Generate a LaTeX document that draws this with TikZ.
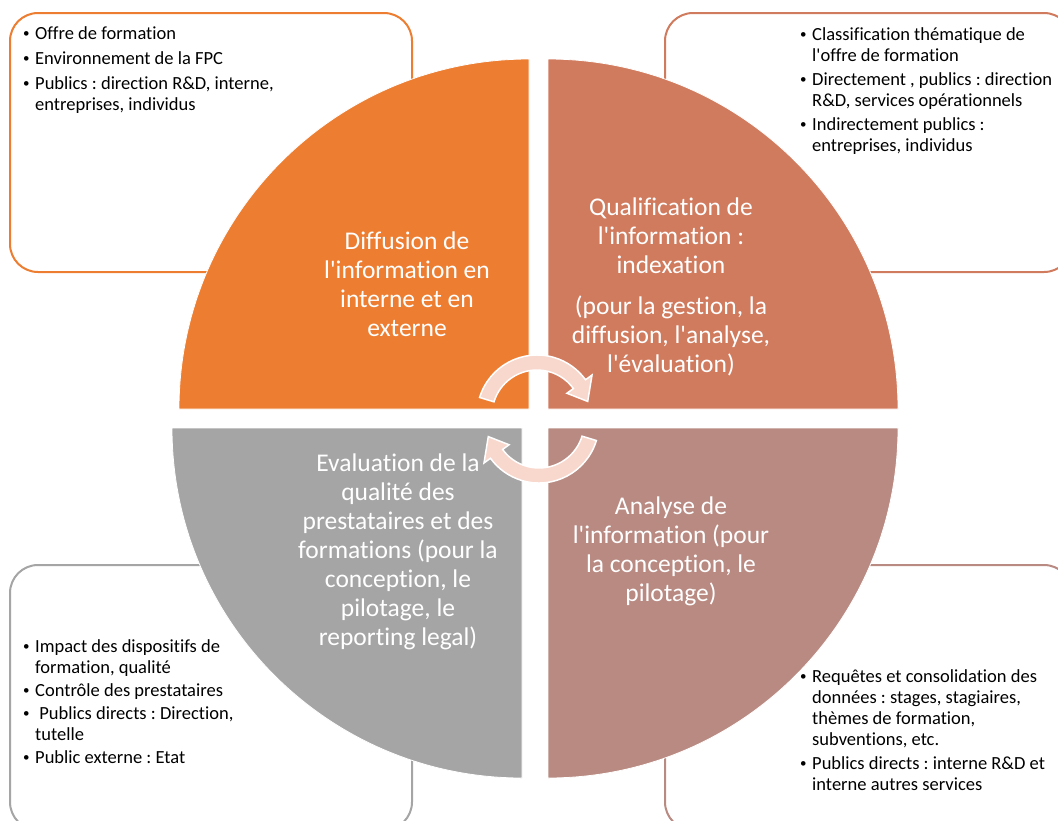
\documentclass[tikz,border=0pt]{standalone}
\usepackage{fontspec}
\setmainfont{Carlito}[Ligatures={NoCommon,TeXOff}]
\frenchspacing
\usetikzlibrary{calc}
\definecolor{cOrange}{HTML}{ED7D31}
\definecolor{cRust}{HTML}{D17B5E}
\definecolor{cGray}{HTML}{A5A5A5}
\definecolor{cMauve}{HTML}{B98A82}
\definecolor{cArrow}{HTML}{F8D7CC}
\newcommand{\boxfont}{\fontsize{18.5}{21}\selectfont}
\newcommand{\quadfont}{\fontsize{25.5}{29}\selectfont}
\newcommand{\bul}{\makebox[13pt][l]{\hspace{1pt}\raisebox{1.2pt}{\fontsize{13}{13}\selectfont •}}}
\begin{document}
\begin{tikzpicture}[x=1pt,y=-1pt,
  infobox/.style={draw=#1, line width=2pt, fill=white, rounded corners=28pt},
  quadrant/.style={fill=#1, draw=white, line width=0.8pt},
  boxtext/.style={font=\boxfont, text=black, inner sep=0pt, anchor=base west},
  quadtext/.style={font=\quadfont, text=white, inner sep=0pt, anchor=base},
  cyclearrow/.style={fill=cArrow, draw=white, line width=1.5pt, line join=miter}]
\useasboundingbox (0,0) rectangle (1058,820);
\clip (0,0) rectangle (1058,820);
% outer rounded boxes
\draw[infobox=cOrange] (10,13) rectangle (412,272);
\draw[infobox=cRust] (665,13) rectangle (1072,272);
\draw[infobox=cGray] (10,565) rectangle (412,830);
\draw[infobox=cMauve] (665,565) rectangle (1072,830);
% quadrants
\fill[quadrant=cOrange] (529,409) -- (179,409) arc[start angle=180, end angle=270, radius=350] -- cycle;
\fill[quadrant=cRust] (548,409) -- (548,59) arc[start angle=270, end angle=360, radius=350] -- cycle;
\fill[quadrant=cGray] (522,428) -- (522,778) arc[start angle=90, end angle=180, radius=350] -- cycle;
\fill[quadrant=cMauve] (548,428) -- (898,428) arc[start angle=0, end angle=90, radius=350] -- cycle;
% box texts
\node[boxtext] (tltext) at (22,39) {\begin{tabular}[t]{@{}l@{}l@{}}
\bul & Offre de formation\\[4pt]
\bul & Environnement de la FPC\\[4pt]
\bul & Publics : direction R\&D, interne,\\
 & entreprises, individus
\end{tabular}};
\node[boxtext] (trtext) at (799,40) {\begin{tabular}[t]{@{}l@{}l@{}}
\bul & Classification thématique de\\
 & l'offre de formation\\[3pt]
\bul & Directement , publics : direction\\
 & R\&D, services opérationnels\\[3pt]
\bul & Indirectement publics :\\
 & entreprises, individus
\end{tabular}};
\node[boxtext] (bltext) at (22,652) {\begin{tabular}[t]{@{}l@{}l@{}}
\bul & Impact des dispositifs de\\
 & formation, qualité\\[2pt]
\bul & Contrôle des prestataires\\[2pt]
\bul & \ Publics directs : Direction,\\
 & tutelle\\[2pt]
\bul & Public externe : Etat
\end{tabular}};
\node[boxtext] (brtext) at (799,682) {\begin{tabular}[t]{@{}l@{}l@{}}
\bul & Requêtes et consolidation des\\
 & données : stages, stagiaires,\\
 & thèmes de formation,\\
 & subventions, etc.\\[3pt]
\bul & Publics directs : interne R\&D et\\
 & interne autres services
\end{tabular}};
% quadrant texts
\node[quadtext] (diffusion) at (407,249) {\begin{tabular}[t]{@{}c@{}}
Diffusion de\\ l'information en\\ interne et en\\ externe
\end{tabular}};
\node[quadtext] (qualif) at (671,215) {\begin{tabular}[t]{@{}c@{}}
Qualification de\\ l'information :\\ indexation\\[12pt]
(pour la gestion, la\\ diffusion, l'analyse,\\ l'évaluation)
\end{tabular}};
\node[quadtext] (evaluation) at (398,471) {\begin{tabular}[t]{@{}c@{}}
Evaluation de la\\ qualité des\\ prestataires et des\\ formations (pour la\\ conception, le\\ pilotage, le\\ reporting legal)
\end{tabular}};
\node[quadtext] (analyse) at (671,514) {\begin{tabular}[t]{@{}c@{}}
Analyse de\\ l'information (pour\\ la conception, le\\ pilotage)
\end{tabular}};
% central cycle arrows
\coordinate (c1) at (537,415);
\coordinate (c2) at (539,423);
\filldraw[cyclearrow] ($(c1)+(-163:60)$) arc[start angle=-163, end angle=-36, radius=60]
  -- ($(c1)+(-36:68)$) -- ($(c1)+(-15:52.5)$) -- ($(c1)+(-36:37)$) -- ($(c1)+(-36:45)$)
  arc[start angle=-36, end angle=-163, radius=45] -- cycle;
\filldraw[cyclearrow] ($(c2)+(17:60)$) arc[start angle=17, end angle=144, radius=60]
  -- ($(c2)+(144:68)$) -- ($(c2)+(165:52.5)$) -- ($(c2)+(144:37)$) -- ($(c2)+(144:45)$)
  arc[start angle=144, end angle=17, radius=45] -- cycle;
\end{tikzpicture}
\end{document}
